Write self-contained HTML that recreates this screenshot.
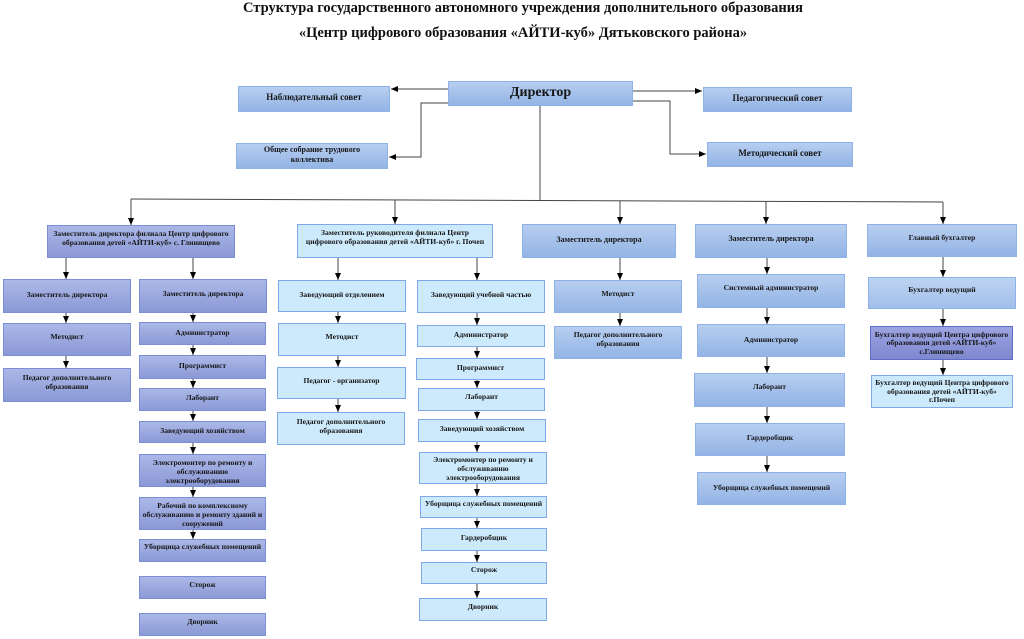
<!DOCTYPE html>
<html><head><meta charset="utf-8">
<style>
html,body{margin:0;padding:0;background:#fff;}
#c{position:relative;width:1024px;height:639px;overflow:hidden;background:#fff;}
.title{position:absolute;left:0;width:1046px;text-align:center;font:bold 14.5px/16px "Liberation Serif","Noto Serif CJK SC",serif;color:#111;white-space:nowrap;}
.b{position:absolute;box-sizing:border-box;display:flex;align-items:center;justify-content:center;text-align:center;font:bold 7.6px/9px "Liberation Serif","Noto Serif CJK SC",serif;color:#161616;padding:0 3px 3px;}
.g{background:linear-gradient(#b7cef0,#93b4e5);border:1px solid #8eb1e8;}
.p{background:linear-gradient(#abb8e7,#8b99d6);border:1px solid #7b8fd6;}
.l{background:#cdeafc;border:1px solid #7fa9e6;}
.d{background:linear-gradient(#9ca4e1,#7e88cf);border:1px solid #5f6ec4;}
.t{align-items:flex-start;padding-top:5px;}
.n{white-space:nowrap;}
.f9{font-size:9px;}
.f8{font-size:8px;}
svg{position:absolute;left:0;top:0;}
</style></head><body>
<div id="c">
<svg width="1024" height="639" viewBox="0 0 1024 639">
<defs><marker id="a" markerWidth="7" markerHeight="6" refX="7" refY="3" orient="auto" markerUnits="userSpaceOnUse"><path d="M0,0L7,3L0,6z" fill="#000"/></marker></defs>
<g fill="none" stroke="#444" stroke-width="1" marker-end="url(#a)">
<path d="M448,89H391"/>
<path d="M448,103H421V157H389"/>
<path d="M633,91H702"/>
<path d="M633,101H670V154H706"/>
<path d="M131,199V225"/><path d="M395,200V224"/><path d="M620,201V224"/><path d="M766,201V224"/><path d="M943,202V224"/>
<path d="M66,258V279"/><path d="M66,313V323"/><path d="M66,356V368"/>
<path d="M193,258V279"/><path d="M193,312V322"/><path d="M193,345V355"/><path d="M193,379V388"/><path d="M193,411V421"/><path d="M193,443V454"/><path d="M193,487V497"/><path d="M193,530V539"/>
<path d="M338,258V280"/><path d="M338,312V323"/><path d="M338,356V367"/><path d="M338,399V412"/>
<path d="M477,258V280"/><path d="M477,313V325"/><path d="M477,347V358"/><path d="M477,380V388"/><path d="M477,411V419"/><path d="M477,442V452"/><path d="M477,484V496"/><path d="M477,518V528"/><path d="M477,551V562"/><path d="M477,584V598"/>
<path d="M620,258V280"/><path d="M620,313V326"/>
<path d="M767,258V274"/><path d="M767,308V324"/><path d="M767,357V373"/><path d="M767,407V423"/><path d="M767,456V472"/>
<path d="M943,257V277"/><path d="M943,309V326"/><path d="M943,360V375"/>
</g>
<g fill="none" stroke="#444" stroke-width="1">
<path d="M540,106V200"/>
<path d="M131,199L943,202"/>
</g>
</svg>

<div class="title" style="top:0px;">Структура государственного автономного учреждения дополнительного образования</div>
<div class="title" style="top:25px;">«Центр цифрового образования «АЙТИ-куб» Дятьковского района»</div>

<div class="b g" style="left:448px;top:81px;width:185px;height:25px;font-size:14px;line-height:16px;padding-bottom:1px;">Директор</div>
<div class="b g f9" style="left:238px;top:86px;width:152px;height:26px;">Наблюдательный совет</div>
<div class="b g f8" style="left:236px;top:143px;width:152px;height:26px;line-height:10px;padding:0 14px 2px;">Общее собрание трудового коллектива</div>
<div class="b g f9" style="left:703px;top:87px;width:149px;height:25px;">Педагогический совет</div>
<div class="b g f9" style="left:707px;top:142px;width:146px;height:25px;">Методический совет</div>

<div class="b p t n" style="left:47px;top:225px;width:188px;height:33px;padding-top:3px;">Заместитель директора филиала Центр цифрового<br>образования детей «АЙТИ-куб» с. Глинищево</div>
<div class="b l t n" style="left:297px;top:224px;width:196px;height:34px;padding:3px 2px 0;">Заместитель руководителя филиала Центр<br>цифрового образования детей «АЙТИ-куб» г. Почеп</div>
<div class="b g f8" style="left:522px;top:224px;width:154px;height:34px;">Заместитель директора</div>
<div class="b g f8" style="left:695px;top:224px;width:152px;height:34px;padding-bottom:5px;">Заместитель директора</div>
<div class="b g" style="left:867px;top:224px;width:150px;height:33px;padding-bottom:6px;">Главный бухгалтер</div>

<div class="b p" style="left:3px;top:279px;width:128px;height:34px;">Заместитель директора</div>
<div class="b p" style="left:3px;top:323px;width:128px;height:33px;padding-bottom:6px;">Методист</div>
<div class="b p t n" style="left:3px;top:368px;width:128px;height:34px;padding:4px 2px 0;">Педагог дополнительного<br>образования</div>

<div class="b p" style="left:139px;top:279px;width:128px;height:34px;padding-bottom:5px;">Заместитель директора</div>
<div class="b p" style="left:139px;top:322px;width:127px;height:23px;">Администратор</div>
<div class="b p" style="left:139px;top:355px;width:127px;height:24px;padding-bottom:4px;">Программист</div>
<div class="b p" style="left:139px;top:388px;width:127px;height:23px;padding-bottom:5px;">Лаборант</div>
<div class="b p" style="left:139px;top:421px;width:127px;height:22px;padding-bottom:4px;">Заведующий хозяйством</div>
<div class="b p t n" style="left:139px;top:454px;width:127px;height:33px;padding:3px 2px 0;">Электромонтер по ремонту и<br>обслуживанию<br>электрооборудования</div>
<div class="b p t n" style="left:139px;top:497px;width:127px;height:33px;padding:3px 2px 0;">Рабочий по комплексному<br>обслуживанию и ремонту зданий и<br>сооружений</div>
<div class="b p" style="left:139px;top:539px;width:127px;height:23px;padding-bottom:8px;">Уборщица служебных помещений</div>
<div class="b p" style="left:139px;top:576px;width:127px;height:23px;padding-bottom:6px;">Сторож</div>
<div class="b p" style="left:139px;top:613px;width:127px;height:23px;padding-bottom:6px;">Дворник</div>

<div class="b l" style="left:278px;top:280px;width:128px;height:32px;">Заведующий отделением</div>
<div class="b l" style="left:278px;top:323px;width:128px;height:33px;padding-bottom:6px;">Методист</div>
<div class="b l" style="left:277px;top:367px;width:129px;height:32px;padding-bottom:6px;">Педагог - организатор</div>
<div class="b l t n" style="left:277px;top:412px;width:128px;height:33px;padding:4px 2px 0;">Педагог дополнительного<br>образования</div>

<div class="b l" style="left:417px;top:280px;width:128px;height:33px;padding-bottom:5px;">Заведующий учебной частью</div>
<div class="b l" style="left:417px;top:325px;width:128px;height:22px;">Администратор</div>
<div class="b l" style="left:416px;top:358px;width:129px;height:22px;padding-bottom:4px;">Программист</div>
<div class="b l" style="left:418px;top:388px;width:127px;height:23px;padding-bottom:7px;">Лаборант</div>
<div class="b l" style="left:418px;top:419px;width:128px;height:23px;padding-bottom:4px;">Заведующий хозяйством</div>
<div class="b l t n" style="left:419px;top:452px;width:128px;height:32px;padding:2px 2px 0;">Электромонтер по ремонту и<br>обслуживанию<br>электрооборудования</div>
<div class="b l" style="left:420px;top:496px;width:127px;height:22px;padding-bottom:7px;">Уборщица служебных помещений</div>
<div class="b l" style="left:421px;top:528px;width:126px;height:23px;padding-bottom:5px;">Гардеробщик</div>
<div class="b l" style="left:421px;top:562px;width:126px;height:22px;padding-bottom:7px;">Сторож</div>
<div class="b l" style="left:419px;top:598px;width:128px;height:23px;padding-bottom:7px;">Дворник</div>

<div class="b g" style="left:554px;top:280px;width:128px;height:33px;padding-bottom:7px;">Методист</div>
<div class="b g t n" style="left:554px;top:326px;width:128px;height:33px;padding:3px 2px 0;">Педагог дополнительного<br>образования</div>

<div class="b g" style="left:697px;top:274px;width:148px;height:34px;padding-bottom:8px;">Системный администратор</div>
<div class="b g" style="left:697px;top:324px;width:148px;height:33px;">Администратор</div>
<div class="b g" style="left:694px;top:373px;width:151px;height:34px;padding-bottom:8px;">Лаборант</div>
<div class="b g" style="left:695px;top:423px;width:150px;height:33px;padding-bottom:5px;">Гардеробщик</div>
<div class="b g" style="left:697px;top:472px;width:149px;height:33px;">Уборщица служебных помещений</div>

<div class="b g" style="left:868px;top:277px;width:148px;height:32px;padding-bottom:7px;background:linear-gradient(#bdd3f2,#a2bfea);">Бухгалтер ведущий</div>
<div class="b d n" style="left:870px;top:326px;width:143px;height:34px;padding:1px 2px 0;line-height:8.5px;">Бухгалтер ведущий Центра цифрового<br>образования детей «АЙТИ-куб»<br>с.Глинищево</div>
<div class="b l n" style="left:871px;top:375px;width:142px;height:33px;padding:1px 2px 0;line-height:8.5px;">Бухгалтер ведущий Центра цифрового<br>образования детей «АЙТИ-куб»<br>г.Почеп</div>
</div>
</body></html>
